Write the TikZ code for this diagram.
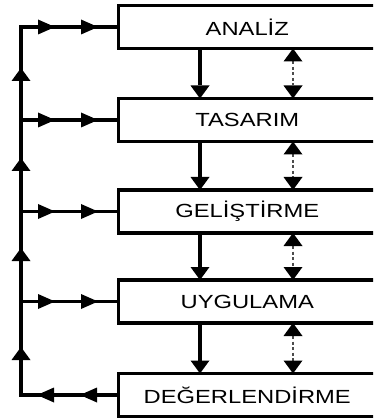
\documentclass[tikz,border=0pt]{standalone}
\usepackage{fontspec}
\setmainfont{Liberation Sans}
\usetikzlibrary{arrows.meta,decorations.markings}
\newcommand\boxlabel[1]{\scalebox{1.25}[1]{#1}}
\tikzset{
  vtip/.tip={Triangle[length=13pt,width=19pt,line width=0pt,color=black]},
  htip/.tip={Triangle[length=17pt,width=15pt,line width=0pt,color=black]},
}
\begin{document}
\begin{tikzpicture}[x=1pt,y=-1pt,
  stage/.style={draw=black, line width=3.4pt, fill=white,
    minimum width=257.5pt, minimum height=43pt,
    inner sep=0pt, outer sep=0pt, font=\fontsize{19}{21}\selectfont},
  flow/.style={line width=3.4pt, draw=black},
  feedback/.style={line width=2.6pt, draw=black!70,
    dash pattern=on 3pt off 2.5pt},
  branch/.style={flow, postaction={decorate}, decoration={markings,
    mark=at position 34pt with {\arrow{htip}},
    mark=at position 77pt with {\arrow{htip}}}},
]
\useasboundingbox (0,0) rectangle (373,419);
\fill[white] (0,0) rectangle (373,419);
\clip (0,0) rectangle (373,419);

% stages of the process
\node[stage] (analiz)        at (247.25,27)    {\boxlabel{ANALİZ}};
\node[stage] (tasarim)       at (247.25,120)   {\boxlabel{TASARIM}};
\node[stage] (gelistirme)    at (247.25,211.5) {\boxlabel{GELİŞTİRME}};
\node[stage] (uygulama)      at (247.25,301.5) {\boxlabel{UYGULAMA}};
\node[stage] (degerlendirme) at (247.25,395)   {\boxlabel{DEĞERLENDİRME}};

% return rail on the left
\coordinate (rail) at (21,0);
\coordinate (r1) at (analiz.west -| rail);
\coordinate (r2) at (tasarim.west -| rail);
\coordinate (r3) at (gelistirme.west -| rail);
\coordinate (r4) at (uygulama.west -| rail);
\coordinate (r5) at (degerlendirme.west -| rail);

\draw[flow, line join=miter, postaction={decorate}, decoration={markings,
    mark=at position 38.5pt with {\arrow{htip}},
    mark=at position 81.5pt with {\arrow{htip}},
    mark=at position 145.5pt with {\arrow{vtip}},
    mark=at position 244.5pt with {\arrow{vtip}},
    mark=at position 334.5pt with {\arrow{vtip}},
    mark=at position 424.5pt with {\arrow{vtip}},
    mark=at position 499.5pt with {\arrow{htip}},
    mark=at position 542.5pt with {\arrow{htip}}}]
  (degerlendirme.west) -- (r5) -- (r1) -- (analiz.west);

\draw[branch] (r2) -- (tasarim.west);
\draw[branch] (r3) -- (gelistirme.west);
\draw[branch] (r4) -- (uygulama.west);

% forward flow between stages
\foreach \a/\b in {analiz/tasarim, tasarim/gelistirme,
                   gelistirme/uygulama, uygulama/degerlendirme}{
  \draw[flow, -vtip] ([xshift=-47.25pt]\a.south) -- ([xshift=-47.25pt]\b.north);
  \draw[feedback, vtip-vtip] ([xshift=45.75pt]\a.south) -- ([xshift=45.75pt]\b.north);
}
\end{tikzpicture}
\end{document}
